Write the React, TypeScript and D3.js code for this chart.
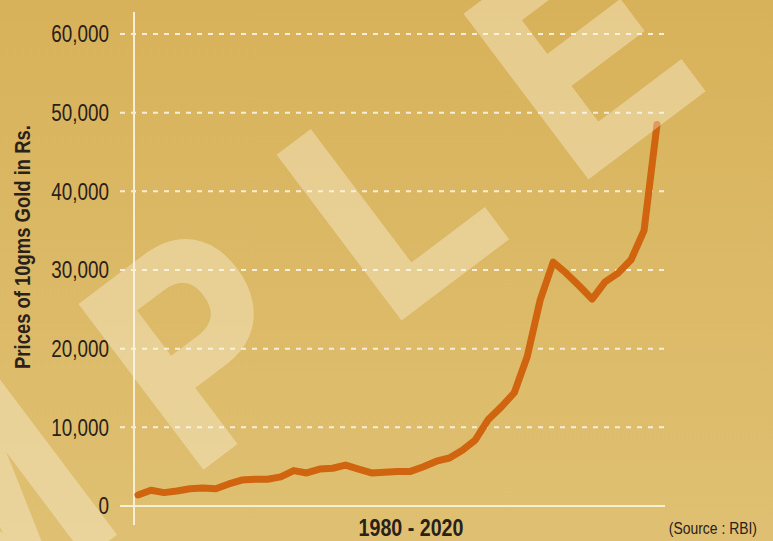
import React from 'react';
import * as d3 from 'd3';

// Gold price per 10 gm (Rs.)
const years = [
  1980, 1981, 1982, 1983, 1984, 1985, 1986, 1987, 1988, 1989,
  1990, 1991, 1992, 1993, 1994, 1995, 1996, 1997, 1998, 1999,
  2000, 2001, 2002, 2003, 2004, 2005, 2006, 2007, 2008, 2009,
  2010, 2011, 2012, 2013, 2014, 2015, 2016, 2017, 2018, 2019, 2020
];
const prices = [
  1400, 2000, 1700, 1900, 2200, 2300, 2200, 2800, 3300, 3400,
  3400, 3700, 4500, 4200, 4700, 4800, 5200, 4700, 4200, 4300,
  4400, 4400, 5000, 5700, 6100, 7100, 8400, 11000, 12600, 14400,
  19000, 26200, 31000, 29600, 28000, 26300, 28500, 29600, 31300, 35000, 48500
];
const yTicks = [0, 10000, 20000, 30000, 40000, 50000, 60000];
const yTitle = 'Prices of 10gms Gold in Rs.';
const xTitle = '1980 - 2020';
const source = '(Source : RBI)';
const watermark = 'SAMPLE';

const W = 773;
const H = 541;
// no narrow face installed, so squeeze Liberation Sans horizontally
const font = "'Liberation Sans', Arial, sans-serif";
const SQ = 0.82;
const ink = '#2a211a';

export default function App() {
  const x = d3.scaleLinear().domain([1980, 2020]).range([138, 657]);
  const y = d3.scaleLinear().domain([0, 60000]).range([506, 34]);
  const fmt = d3.format(',');

  const line = d3.line<number>()
    .x((_, i) => x(years[i]))
    .y(d => y(d));

  return (
    <>
      <style>{`body{margin:0}`}</style>
      <svg width={W} height={H} style={{ display: 'block' }}>
        <defs>
          <linearGradient id="bg" x1="0" y1="0" x2="0" y2="1">
            <stop offset="0" stopColor="#d8b25a" />
            <stop offset="1" stopColor="#dfc072" />
          </linearGradient>
        </defs>
        <rect width={W} height={H} fill="url(#bg)" />

        {/* grid */}
        {yTicks.filter(t => t > 0).map(t => (
          <line key={t} x1={120} x2={665} y1={y(t)} y2={y(t)}
            stroke="#f6eed8" strokeWidth={2} strokeDasharray="5,6" />
        ))}
        <line x1={120} x2={665} y1={y(0)} y2={y(0)} stroke="#f6eed8" strokeWidth={2} />
        <line x1={134} x2={134} y1={12} y2={525} stroke="#f6eed8" strokeWidth={2} />

        {/* tick labels */}
        {yTicks.map(t => (
          <text key={t} transform={`translate(109,${y(t)}) scale(${SQ},1)`} dy="0.36em"
            textAnchor="end" fontFamily={font} fontSize={23} fill={ink}>
            {fmt(t)}
          </text>
        ))}

        <text transform={`translate(30,247) rotate(-90) scale(${SQ},1)`} textAnchor="middle"
          fontFamily={font} fontWeight="bold" fontSize={22.5} fill={ink}>
          {yTitle}
        </text>

        <path d={line(prices) || ''} fill="none" stroke="#d0640f" strokeWidth={7}
          strokeLinejoin="round" strokeLinecap="round" />

        <text transform={`translate(411,536) scale(${SQ},1)`} textAnchor="middle"
          fontFamily={font} fontWeight="bold" fontSize={24} fill={ink}>
          {xTitle}
        </text>
        <text transform={`translate(757,534) scale(${SQ},1)`} textAnchor="end"
          fontFamily={font} fontSize={17} fill={ink}>
          {source}
        </text>

        {/* watermark */}
        <g opacity={0.36} transform="translate(402,320) rotate(-37) scale(0.86,1)">
          <text x={-1234} y={-4} fontFamily={font} fontWeight="bold" fontSize={290}
            letterSpacing={95} fill="#fff8e6" stroke="#fff8e6" strokeWidth={8}
            strokeLinejoin="miter">
            {watermark}
          </text>
        </g>
      </svg>
    </>
  );
}
